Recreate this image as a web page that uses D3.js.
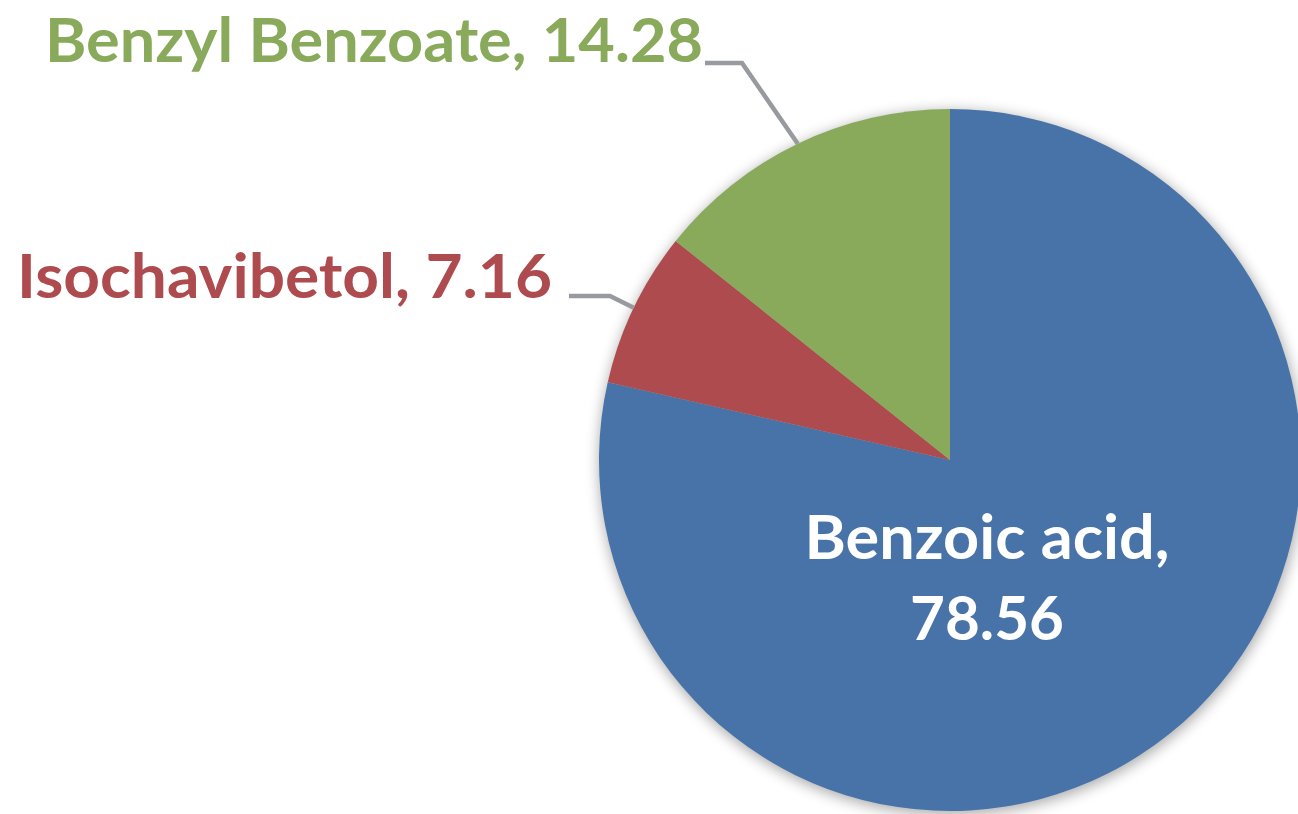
<!DOCTYPE html>
<html lang="en">
<head>
    <meta charset="UTF-8">
    <title>Compound share pie</title>
    <script src="https://d3js.org/d3.v7.min.js"></script>
    <style>
        html, body { margin: 0; padding: 0; background: #fff; }
        svg { display: block; }
        .label { font-family: Lato, "Open Sans", sans-serif; font-weight: 700; font-size: 62px; }
        .leader { fill: none; stroke: #979a9e; stroke-width: 4.5px; stroke-linejoin: miter; }
    </style>
</head>
<body>
    <div id="chart"></div>

    <script>
        // data, clockwise from 12 o'clock
        const compounds = ['Benzoic acid', 'Isochavibetol', 'Benzyl Benzoate'];
        const shares = [78.56, 7.16, 14.28];
        const sliceColors = ['#4773a9', '#ae4b4e', '#89a95b'];
        const labelColors = ['#ffffff', '#ae4b4e', '#89a95b'];

        const width = 1298, height = 814;
        const cx = 950, cy = 460, radius = 351;

        const svg = d3.select('#chart').append('svg')
            .attr('width', width)
            .attr('height', height);

        const defs = svg.append('defs');
        defs.append('filter')
            .attr('id', 'blur')
            .attr('x', '-20%').attr('y', '-20%')
            .attr('width', '140%').attr('height', '140%')
            .append('feGaussianBlur')
            .attr('stdDeviation', 7);

        const g = svg.append('g').attr('transform', `translate(${cx},${cy})`);

        // soft shadow under the pie
        g.append('circle')
            .attr('cx', 1).attr('cy', 3)
            .attr('r', radius + 1)
            .attr('fill', '#000')
            .attr('opacity', 0.33)
            .attr('filter', 'url(#blur)');

        const pie = d3.pie().sort(null).value(d => d.value);
        const arcs = pie(compounds.map((c, i) => ({ name: c, value: shares[i], i })));

        const arc = d3.arc().innerRadius(0).outerRadius(radius);
        const edgeArc = d3.arc().innerRadius(radius).outerRadius(radius);

        g.append('g')
            .selectAll('path')
            .data(arcs)
            .join('path')
            .attr('d', arc)
            .attr('fill', d => sliceColors[d.data.i]);

        // label placement (offsets relative to pie centre), Excel-style callouts
        const labelLayout = [
            { inside: true, x: 37, lines: [{ dy: 99, len: 365 }, { dy: 180, len: 154 }] },
            { inside: false, elbow: [-340, -164], lineStart: -381, textEnd: -398, baseline: -162, len: 535 },
            { inside: false, elbow: [-208, -397], lineStart: -245, textEnd: -247, baseline: -398, len: 658 }
        ];

        arcs.forEach(d => {
            const i = d.data.i;
            const L = labelLayout[i];
            const text = `${d.data.name}, ${d.data.value.toFixed(2)}`;
            if (L.inside) {
                const parts = [`${d.data.name},`, d.data.value.toFixed(2)];
                parts.forEach((p, k) => {
                    g.append('text')
                        .attr('class', 'label')
                        .attr('x', L.x)
                        .attr('y', L.lines[k].dy)
                        .attr('text-anchor', 'middle')
                        .attr('fill', labelColors[i])
                        .attr('textLength', L.lines[k].len)
                        .attr('lengthAdjust', 'spacingAndGlyphs')
                        .text(p);
                });
            } else {
                const [ex, ey] = edgeArc.centroid(d);
                g.append('polyline')
                    .attr('class', 'leader')
                    .attr('points', [[L.lineStart, L.elbow[1]], L.elbow, [ex, ey]].map(p => p.join(',')).join(' '));
                g.append('text')
                    .attr('class', 'label')
                    .attr('x', L.textEnd - L.len)
                    .attr('y', L.baseline)
                    .attr('fill', labelColors[i])
                    .attr('textLength', L.len)
                    .attr('lengthAdjust', 'spacingAndGlyphs')
                    .text(text);
            }
        });
    </script>
</body>
</html>
